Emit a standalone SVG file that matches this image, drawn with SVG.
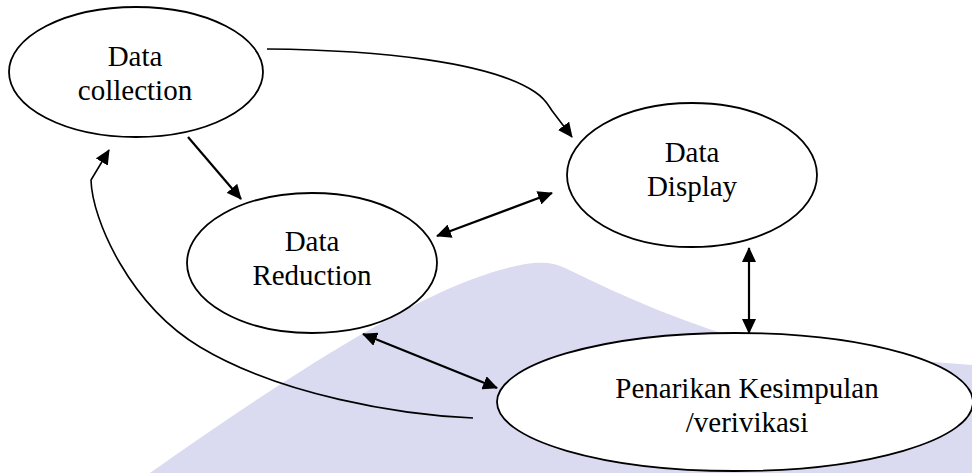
<svg xmlns="http://www.w3.org/2000/svg" width="972" height="473" viewBox="0 0 972 473">
<style>
.node ellipse{fill:#fff;stroke:#000;stroke-width:1.8}
.lbl{font-family:"Liberation Serif","Times New Roman",serif;font-size:29px;fill:#000;text-anchor:middle}
.con{fill:none;stroke:#000}
.thick{stroke-width:2.2}
.thin{stroke-width:1.6}
</style>
<defs>
<marker id="ah" viewBox="0 0 15 14" refX="14" refY="7" markerWidth="15" markerHeight="14" markerUnits="userSpaceOnUse" orient="auto-start-reverse">
<path d="M0,0 L15,7 L0,14 Z" fill="#000"/>
</marker>
</defs>
<rect width="972" height="473" fill="#fff"/>
<g id="watermark">
<path d="M150,473 C260,395 390,310 470,280 C520,262 545,258 565,268 C630,300 700,330 780,350 L972,365 L972,473 Z" fill="#dadaf1"/>
</g>
<g id="connectors">
<path class="con thin" d="M267,49 C380,50 490,62 535,92 C547,100 549,107 553,112 L572,137" marker-end="url(#ah)"/>
<path class="con thick" d="M188,137 L241,199" marker-end="url(#ah)"/>
<path class="con thick" d="M437,236 L552,193" marker-start="url(#ah)" marker-end="url(#ah)"/>
<path class="con thick" d="M749,248 L749,333" marker-start="url(#ah)" marker-end="url(#ah)"/>
<path class="con thick" d="M363,334 L497,388" marker-start="url(#ah)" marker-end="url(#ah)"/>
<path class="con thin" d="M473,418 C400,415 280,395 200,347 C130,305 92,220 91,180 L109,150" marker-end="url(#ah)"/>
</g>
<g id="node-collection" class="node">
<ellipse cx="136" cy="72" rx="127" ry="65"/>
<text class="lbl" x="135" y="66">Data</text>
<text class="lbl" x="135" y="100">collection</text>
</g>
<g id="node-reduction" class="node">
<ellipse cx="312" cy="263" rx="125" ry="70"/>
<text class="lbl" x="312" y="251">Data</text>
<text class="lbl" x="312" y="285">Reduction</text>
</g>
<g id="node-display" class="node">
<ellipse cx="692" cy="175" rx="125" ry="72"/>
<text class="lbl" x="692" y="162">Data</text>
<text class="lbl" x="692" y="196">Display</text>
</g>
<g id="node-penarikan" class="node">
<ellipse cx="735" cy="402" rx="238" ry="69"/>
<text class="lbl" x="747" y="398">Penarikan Kesimpulan</text>
<text class="lbl" x="747" y="432">/verivikasi</text>
</g>
</svg>
